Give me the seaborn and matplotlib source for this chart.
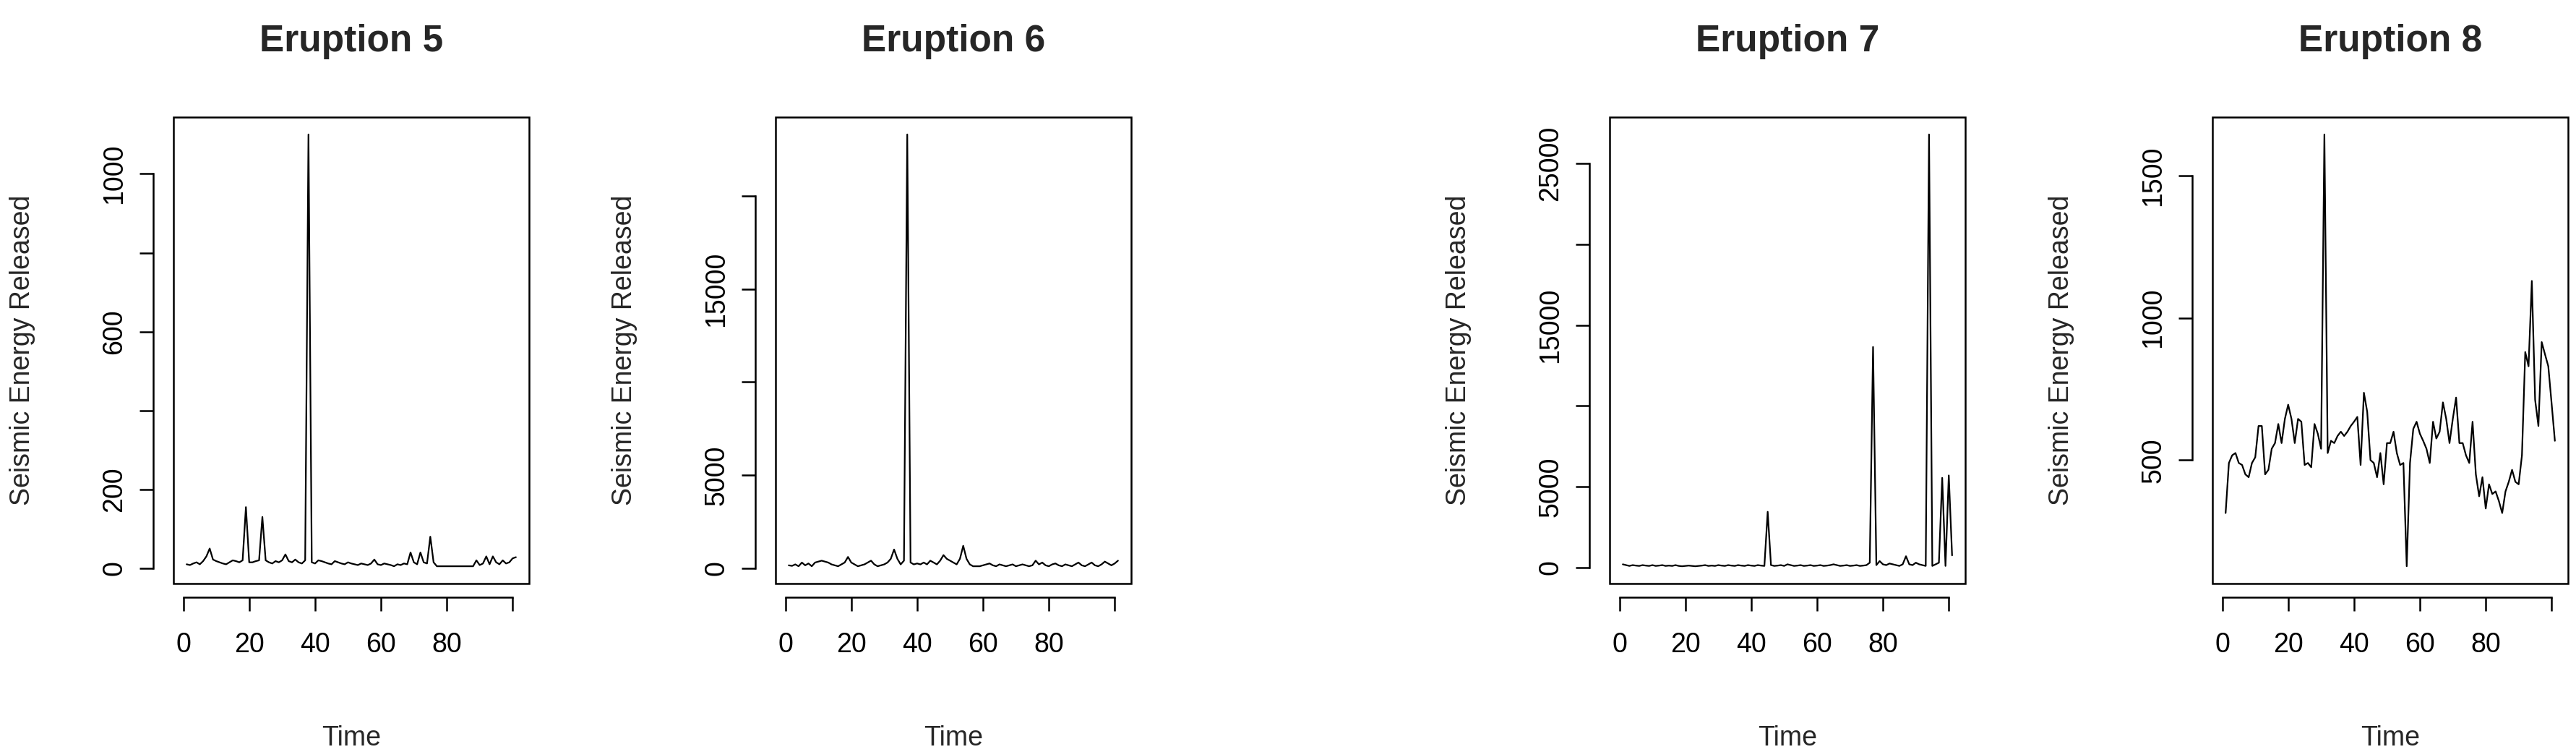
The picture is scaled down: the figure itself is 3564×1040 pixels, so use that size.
import numpy as np
import pandas as pd
import matplotlib.pyplot as plt
import seaborn as sns
from matplotlib.patches import Rectangle

sns.set_theme(style="white")
plt.rcParams['font.family'] = ['Liberation Sans', 'DejaVu Sans']

# === data (approx) ===
time = list(range(1, 102))

eruption5 = [10, 8, 12, 15, 10, 18, 30, 50, 22, 18, 15, 12, 10, 15, 20, 18, 15, 20, 155, 15,
             15, 18, 20, 130, 20, 15, 12, 18, 15, 20, 35, 18, 15, 22, 15, 12, 20, 1100, 15, 12,
             20, 18, 15, 12, 10, 18, 15, 12, 10, 15, 12, 10, 8, 12, 10, 8, 12, 22, 10, 8,
             12, 10, 8, 5, 10, 8, 12, 10, 40, 15, 10, 40, 15, 12, 80, 15, 5, 5, 5, 5,
             5, 5, 5, 5, 5, 5, 5, 5, 20, 8, 12, 30, 10, 30, 15, 10, 20, 12, 15, 25, 28]

eruption6 = [150, 120, 200, 100, 300, 150, 250, 100, 300, 350, 400, 350, 300, 200, 150, 100, 200, 300, 600, 300,
             200, 100, 150, 200, 300, 400, 200, 100, 150, 200, 300, 500, 1000, 500, 200, 400, 23300, 300, 200, 250,
             200, 300, 200, 400, 300, 200, 400, 700, 500, 400, 300, 200, 500, 1200, 500, 200, 100, 100, 100, 150,
             200, 250, 150, 100, 200, 150, 100, 150, 200, 100, 150, 200, 150, 100, 150, 400, 200, 300, 150, 100,
             200, 250, 150, 100, 200, 150, 100, 200, 300, 150, 100, 200, 300, 150, 100, 200, 350, 250, 150, 250, 400]

eruption7 = [200, 150, 100, 150, 120, 100, 150, 120, 100, 150, 100, 120, 150, 100, 120, 100, 150, 100, 80, 100,
             120, 100, 80, 100, 120, 150, 100, 120, 100, 150, 120, 100, 150, 120, 100, 150, 120, 100, 150, 120,
             100, 150, 120, 100, 3450, 150, 100, 120, 150, 100, 200, 150, 100, 120, 150, 100, 120, 150, 100, 120,
             150, 100, 120, 150, 200, 150, 100, 120, 150, 100, 120, 150, 100, 120, 150, 300, 13650, 150, 400, 200,
             150, 250, 200, 150, 100, 200, 700, 200, 150, 300, 200, 150, 100, 26800, 100, 200, 300, 5550, 100, 5700, 750]

eruption8 = [314, 490, 517, 525, 490, 483, 450, 440, 490, 510, 620, 620, 450, 466, 540, 560, 627, 560, 645, 695,
             645, 560, 645, 635, 483, 490, 475, 627, 593, 540, 1645, 525, 568, 560, 585, 600, 585, 600, 620, 635,
             652, 483, 737, 670, 500, 490, 440, 525, 415, 560, 560, 600, 525, 483, 490, 127, 490, 610, 635, 593,
             568, 540, 490, 635, 576, 600, 703, 645, 560, 645, 720, 560, 560, 517, 490, 635, 450, 373, 440, 330,
             415, 381, 390, 356, 314, 390, 424, 466, 424, 415, 517, 880, 830, 1130, 712, 620, 915, 872, 830, 700, 568]

titles = ["Eruption 5", "Eruption 6", "Eruption 7", "Eruption 8"]
series = [eruption5, eruption6, eruption7, eruption8]
yticks = [[0, 200, 400, 600, 800, 1000],
          [0, 5000, 10000, 15000, 20000],
          [0, 5000, 10000, 15000, 20000, 25000],
          [500, 1000, 1500]]
ytick_labels = [["0", "200", "", "600", "", "1000"],
                ["0", "5000", "", "15000", ""],
                ["0", "5000", "", "15000", "", "25000"],
                ["500", "1000", "1500"]]
xticks = [0, 20, 40, 60, 80, 100]
xtick_labels = ["0", "20", "40", "60", "80", ""]

# === figure, R base-graphics look ===
W, H = 3564, 1040
fig = plt.figure(figsize=(W / 100, H / 100), dpi=100)
lefts = [240, 1073, 2227, 3061]
ax_w, top, bot = 492, 162, 807

for i in range(4):
    ax = fig.add_axes([lefts[i] / W, 1 - bot / H, ax_w / W, (bot - top) / H])
    df = pd.DataFrame({"Time": time, "Energy": series[i]})
    sns.lineplot(data=df, x="Time", y="Energy", ax=ax, color="black", lw=1.6)
    ax.margins(x=0.04, y=0.04)
    ax.set_facecolor("white")

    # box around plotting region
    ax.add_patch(Rectangle((0, 0), 1, 1, transform=ax.transAxes, fill=False,
                           lw=1.8, ec="black", clip_on=False, zorder=5))
    for s in ["top", "right"]:
        ax.spines[s].set_visible(False)
    ax.spines["left"].set_position(("outward", 20))
    ax.spines["bottom"].set_position(("outward", 14))
    for s in ["left", "bottom"]:
        ax.spines[s].set_color("black")
        ax.spines[s].set_linewidth(1.8)

    ax.set_xticks(xticks)
    ax.set_xticklabels(xtick_labels)
    ax.set_yticks(yticks[i])
    ax.set_yticklabels(ytick_labels[i], rotation=90, va="center")
    ax.spines["bottom"].set_bounds(xticks[0], xticks[-1])
    ax.spines["left"].set_bounds(yticks[i][0], yticks[i][-1])
    ax.tick_params(axis="both", which="both", direction="out", length=14, width=1.8,
                   color="black", labelsize=27, labelcolor="black",
                   bottom=True, left=True)
    ax.tick_params(axis="x", pad=20)
    ax.tick_params(axis="y", pad=12)

    ax.set_xlabel("Time", fontsize=27)
    ax.set_ylabel("Seismic Energy Released", fontsize=27)
    ax.xaxis.set_label_coords(0.5, -196 / (bot - top))
    ax.yaxis.set_label_coords(-191 / ax_w, 0.5)
    ax.text(0.5, 1 + 105 / (bot - top), titles[i], transform=ax.transAxes,
            ha="center", va="center", fontsize=37, fontweight="bold")

fig.savefig("out.png", dpi=100, facecolor="white")
